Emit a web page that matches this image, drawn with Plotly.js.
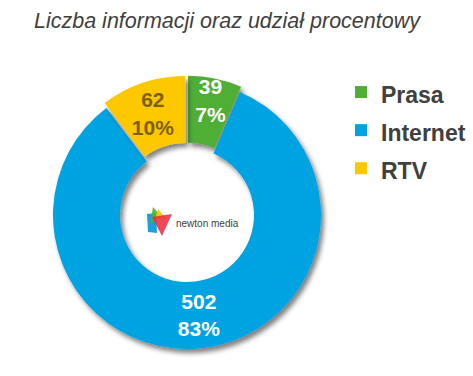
<!DOCTYPE html>
<html>
<head>
<meta charset="utf-8">
<script src="https://cdn.plot.ly/plotly-3.0.1.min.js"></script>
<style>
html,body{margin:0;padding:0;background:#fff;}
#chart{width:473px;height:376px;}
.pielayer path.surface{filter:url(#sliceShadow);}
</style>
</head>
<body>
<svg width="0" height="0" style="position:absolute">
  <defs>
    <filter id="sliceShadow" x="-20%" y="-20%" width="150%" height="150%">
      <feGaussianBlur in="SourceAlpha" stdDeviation="2.5"/>
      <feOffset dx="3" dy="4" result="ob"/>
      <feComponentTransfer><feFuncA type="linear" slope="0.5"/></feComponentTransfer>
      <feMerge><feMergeNode/><feMergeNode in="SourceGraphic"/></feMerge>
    </filter>
  </defs>
</svg>
<div id="chart"></div>
<script>
// ---- data ----
const categories = ['Prasa', 'Internet', 'RTV'];
const counts = [39, 502, 62];
const percentLabels = ['7%', '83%', '10%'];
const chartTitle = 'Liczba informacji oraz udział procentowy';
const logoText = 'newton media';

// ---- styling ----
const W = 473, H = 376;
const FONT = 'Liberation Sans, Arial, sans-serif';
const colors = ['#50AE35', '#00A3E1', '#FDC800'];
const textColors = ['#ffffff', '#ffffff', '#7F6000'];

function px(x, y) { return [x / W, 1 - y / H]; }
function pathPx(pts) {
  return 'M' + pts.map(p => { const q = px(p[0], p[1]); return q[0].toFixed(5) + ',' + q[1].toFixed(5); }).join('L') + 'Z';
}

// pie geometry (pixels)
const cx = 187, cy = 215, R = 134, maxPull = 0.04;
const half = R * (1 + maxPull);

const trace = {
  type: 'pie',
  labels: categories.map(c => '<span style="font-size:23px">' + c + '</span>'),
  values: counts,
  text: percentLabels,
  texttemplate: '%{value}<br>%{text}',
  textposition: 'inside',
  insidetextorientation: 'horizontal',
  insidetextfont: {family: FONT, size: 21, color: textColors, weight: 'bold'},
  sort: false,
  direction: 'clockwise',
  rotation: 0,
  hole: 0.5,
  pull: [0.04, 0.0, 0.04],
  marker: {colors: colors, line: {width: 0}},
  domain: {
    x: [(cx - half) / W, (cx + half) / W],
    y: [(H - cy - half) / H, (H - cy + half) / H]
  },
  hoverinfo: 'none'
};

const shapes = [
  {type: 'path', xref: 'paper', yref: 'paper', path: pathPx([[147,214],[156,213],[157,233],[148,232]]), fillcolor: 'rgba(0,150,220,0.9)', line: {width: 0}},
  {type: 'path', xref: 'paper', yref: 'paper', path: pathPx([[153,207],[161,216],[150,224]]), fillcolor: 'rgba(80,180,50,0.9)', line: {width: 0}},
  {type: 'path', xref: 'paper', yref: 'paper', path: pathPx([[158,209],[166,218],[155,219]]), fillcolor: 'rgba(250,200,0,0.9)', line: {width: 0}},
  {type: 'path', xref: 'paper', yref: 'paper', path: pathPx([[152,217],[172,214],[162,236]]), fillcolor: 'rgba(235,40,60,0.85)', line: {width: 0}}
];

const layout = {
  width: W, height: H,
  margin: {l: 0, r: 0, t: 0, b: 0},
  paper_bgcolor: '#ffffff',
  showlegend: true,
  title: {
    text: chartTitle,
    x: 227 / W, xanchor: 'center',
    y: 1 - 20 / H, yanchor: 'middle',
    xref: 'paper', yref: 'paper',
    font: {family: FONT, size: 21.5, color: '#404040', style: 'italic'}
  },
  legend: {
    x: 341 / W, xanchor: 'left',
    y: 1 - 68 / H, yanchor: 'top',
    font: {family: FONT, size: 27, color: '#404040', weight: 'bold'},
    itemclick: false, itemdoubleclick: false,
    bgcolor: 'rgba(0,0,0,0)'
  },
  uniformtext: {minsize: 21, mode: 'show'},
  shapes: shapes,
  annotations: [{
    text: logoText, xref: 'paper', yref: 'paper',
    x: 174 / W, y: 1 - 223 / H, xanchor: 'left', yanchor: 'middle',
    showarrow: false,
    font: {family: FONT, size: 10, color: '#404040'}
  }]
};

Plotly.newPlot('chart', [trace], layout, {displayModeBar: false, staticPlot: true});
</script>
</body>
</html>
